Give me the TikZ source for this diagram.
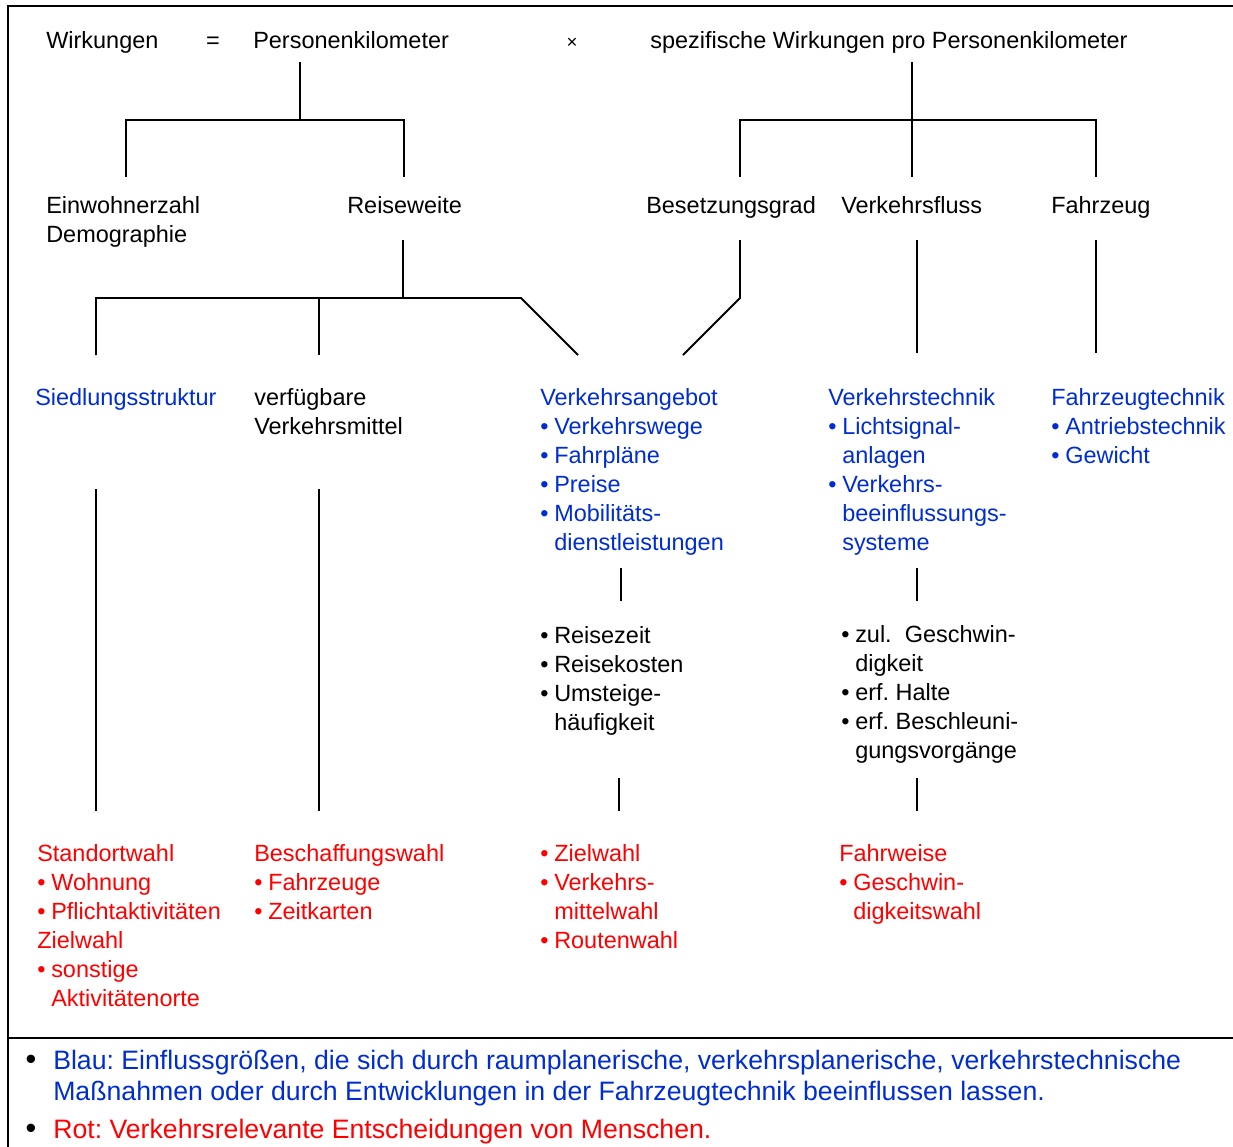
\documentclass[tikz,border=0pt]{standalone}
\usepackage{fontspec}
\setmainfont{Liberation Sans}
\frenchspacing
\definecolor{blau}{RGB}{0,45,210}
\definecolor{rot}{RGB}{255,0,0}
\newcommand{\bu}{\makebox[10.5pt][l]{\textbullet}}
\newcommand{\ind}{\hspace*{10.5pt}}
\tikzset{
  txt/.style={anchor=north west, yshift=12.8pt, inner sep=0pt, align=left,
    font=\fontsize{17.6}{21.75}\selectfont},
  zeichen/.style={anchor=base, inner sep=0pt,
    font=\fontsize{17.6}{21.75}\selectfont},
  leg/.style={anchor=north west, yshift=14.6pt, inner sep=0pt, align=left,
    font=\fontsize{20}{23.25}\selectfont},
  ast/.style={line width=1.4pt},
  rahmen/.style={line width=2.2pt},
}

\begin{document}
\begin{tikzpicture}[x=0.75pt, y=-0.75pt]
  \useasboundingbox (0,0) rectangle (1233,1147);
  \draw[rahmen] (8,1147) -- (8,6) -- (1233,6);
  \draw[rahmen] (8,1038) -- (1233,1038);

  % obere Zeile
  \node[txt] (wirk) at (46,48) {Wirkungen};
  \node[zeichen] (gleich) at (213,48) {=};
  \node[zeichen, font=\fontsize{14}{15}\selectfont] (mal) at (572,48) {×};
  \node[txt] (pkm) at (253,48) {Personenkilometer};
  \node[txt] (spez) at (650,48) {spezifische Wirkungen pro Personenkilometer};

  % zweite Ebene
  \node[txt] (einw) at (46,213) {Einwohnerzahl\\Demographie};
  \node[txt] (rw) at (347,213) {Reiseweite};
  \node[txt] (bg) at (646,213) {Besetzungsgrad};
  \node[txt] (vf) at (841,213) {Verkehrsfluss};
  \node[txt] (fz) at (1051,213) {Fahrzeug};

  % Einflussgroessen
  \node[txt, blau] (sied) at (35,405) {Siedlungsstruktur};
  \node[txt] (verf) at (254,405) {verfügbare\\Verkehrsmittel};
  \node[txt, blau] (vang) at (540,405) {Verkehrsangebot\\
    \bu Verkehrswege\\\bu Fahrpläne\\\bu Preise\\
    \bu Mobilitäts-\\\ind dienstleistungen};
  \node[txt, blau] (vtech) at (828,405) {Verkehrstechnik\\
    \bu Lichtsignal-\\\ind anlagen\\\bu Verkehrs-\\
    \ind beeinflussungs-\\\ind systeme};
  \node[txt, blau] (fztech) at (1051,405) {Fahrzeugtechnik\\
    \bu Antriebstechnik\\\bu Gewicht};

  \node[txt] (reise) at (540,643) {\bu Reisezeit\\\bu Reisekosten\\
    \bu Umsteige-\\\ind häufigkeit};
  \node[txt] (geschw) at (841,642) {\bu zul.\ \ Geschwin-\\\ind digkeit\\
    \bu erf. Halte\\\bu erf. Beschleuni-\\\ind gungsvorgänge};

  % Entscheidungen
  \node[txt, rot] (stand) at (37,861) {Standortwahl\\\bu Wohnung\\
    \bu Pflichtaktivitäten\\Zielwahl\\\bu sonstige\\\ind Aktivitätenorte};
  \node[txt, rot] (besch) at (254,861) {Beschaffungswahl\\\bu Fahrzeuge\\
    \bu Zeitkarten};
  \node[txt, rot] (ziel) at (540,861) {\bu Zielwahl\\\bu Verkehrs-\\
    \ind mittelwahl\\\bu Routenwahl};
  \node[txt, rot] (fahrw) at (839,861) {Fahrweise\\\bu Geschwin-\\
    \ind digkeitswahl};

  % Legende
  \node[zeichen, font=\fontsize{23}{25}\selectfont] (lb1) at (31,1069) {\textbullet};
  \node[leg, blau] (leg1) at (53,1069) {Blau: Einflussgrößen, die sich durch
    raumplanerische, verkehrsplanerische, verkehrstechnische\\
    Maßnahmen oder durch Entwicklungen in der Fahrzeugtechnik
    beeinflussen lassen.};
  \node[zeichen, font=\fontsize{23}{25}\selectfont] (lb2) at (31,1138) {\textbullet};
  \node[leg, rot] (leg2) at (53,1138) {Rot: Verkehrsrelevante
    Entscheidungen von Menschen.};

  % Astpunkte
  \coordinate (pkm-s) at (300,62);
  \coordinate (j1) at (300,120);
  \coordinate (einw-n) at (126,177);
  \coordinate (rw-n) at (404,177);
  \coordinate (spez-s) at (912,62);
  \coordinate (j2) at (912,120);
  \coordinate (bg-n) at (740,177);
  \coordinate (vf-n) at (912,177);
  \coordinate (fz-n) at (1096,177);
  \coordinate (rw-s) at (403,240);
  \coordinate (j3) at (403,298);
  \coordinate (knick) at (521,298);
  \coordinate (sied-n) at (96,355);
  \coordinate (verf-n) at (319,355);
  \coordinate (vang-n) at (578,355);
  \coordinate (bg-s) at (740,240);
  \coordinate (bg-k) at (740,298);
  \coordinate (vang-n2) at (683,355);
  \coordinate (vf-s) at (917,240);
  \coordinate (vtech-n) at (917,353);
  \coordinate (fz-s) at (1096,240);
  \coordinate (fztech-n) at (1096,353);
  \coordinate (sied-s) at (96,489);
  \coordinate (stand-n) at (96,811);
  \coordinate (verf-s) at (319,489);
  \coordinate (besch-n) at (319,811);
  \coordinate (vang-s) at (621,568);
  \coordinate (reise-n) at (621,601);
  \coordinate (vtech-s) at (917,568);
  \coordinate (geschw-n) at (917,601);
  \coordinate (reise-s) at (619,778);
  \coordinate (ziel-n) at (619,811);
  \coordinate (geschw-s) at (917,778);
  \coordinate (fahrw-n) at (917,811);

  % Verbindungen
  \draw[ast] (pkm-s) -- (j1);
  \draw[ast] (einw-n) |- (j1) -| (rw-n);
  \draw[ast] (spez-s) -- (vf-n);
  \draw[ast] (bg-n) |- (j2) -| (fz-n);
  \draw[ast] (rw-s) -- (j3);
  \draw[ast] (sied-n) |- (knick) -- (vang-n);
  \draw[ast] (verf-n) -- (verf-n |- j3);
  \draw[ast] (bg-s) -- (bg-k) -- (vang-n2);
  \foreach \a/\b in {vf-s/vtech-n, fz-s/fztech-n, sied-s/stand-n,
    verf-s/besch-n, vang-s/reise-n, vtech-s/geschw-n,
    reise-s/ziel-n, geschw-s/fahrw-n}
    \draw[ast] (\a) -- (\b);
\end{tikzpicture}
\end{document}
